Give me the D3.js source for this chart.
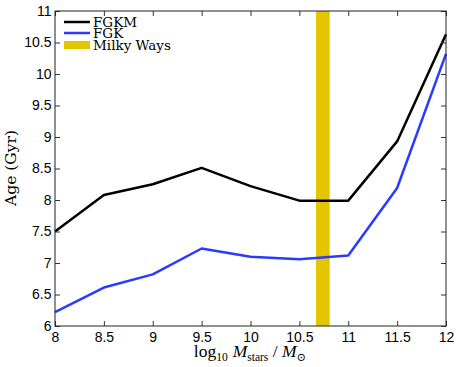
<!DOCTYPE html>
<html>
<head>
<meta charset="utf-8">
<script src="https://cdn.jsdelivr.net/npm/d3@7"></script>
<style>
  body { margin: 0; background: #fff; }
  .tick text { font-family: "Liberation Sans", Arial, sans-serif; font-size: 14px; fill: #000; }
  .lab { font-family: "DejaVu Serif", "Liberation Serif", serif; fill: #000; }
  .xlab { font-family: "Liberation Serif", "DejaVu Serif", serif; fill: #000; }
</style>
</head>
<body>
<svg id="chart" width="458" height="367"></svg>
<script>
const masses = [8, 8.5, 9, 9.5, 10, 10.5, 11, 11.5, 12];
const ageFGKM = [7.5, 8.08, 8.25, 8.51, 8.22, 7.99, 7.99, 8.93, 10.63];
const ageFGK = [6.22, 6.61, 6.82, 7.23, 7.10, 7.06, 7.12, 8.19, 10.32];
const milkyWay = [10.67, 10.81];
const xTicks = [8, 8.5, 9, 9.5, 10, 10.5, 11, 11.5, 12];
const yTicks = [6, 6.5, 7, 7.5, 8, 8.5, 9, 9.5, 10, 10.5, 11];
const series = [
  { name: 'FGKM', values: ageFGKM, color: '#000000' },
  { name: 'FGK', values: ageFGK, color: '#2a3bff' }
];

const svg = d3.select('#chart');
const m = { left: 55, right: 446, top: 11, bottom: 326 };

const x = d3.scaleLinear().domain([8, 12]).range([m.left, m.right]);
const y = d3.scaleLinear().domain([6, 11]).range([m.bottom, m.top]);

// milky way band
svg.append('rect')
  .attr('x', x(milkyWay[0]))
  .attr('y', m.top)
  .attr('width', x(milkyWay[1]) - x(milkyWay[0]))
  .attr('height', m.bottom - m.top)
  .attr('fill', '#e3c500');

const line = d3.line()
  .x((d, i) => x(masses[i]))
  .y(d => y(d));

series.forEach(s => {
  svg.append('path')
    .datum(s.values)
    .attr('d', line)
    .attr('fill', 'none')
    .attr('stroke', s.color)
    .attr('stroke-width', 2.5)
    .attr('stroke-linejoin', 'round');
});

// axes (ticks inward, boxed)
const tl = 5;
const fmt = d => d3.format('')(d);
svg.append('g')
  .attr('transform', `translate(0,${m.bottom})`)
  .call(d3.axisBottom(x).tickValues(xTicks).tickSize(-tl).tickPadding(6).tickFormat(fmt))
  .call(g => g.select('.domain').remove());
svg.append('g')
  .attr('transform', `translate(0,${m.top})`)
  .call(d3.axisTop(x).tickValues(xTicks).tickSize(-tl).tickFormat(''))
  .call(g => g.select('.domain').remove());
svg.append('g')
  .attr('transform', `translate(${m.left},0)`)
  .call(d3.axisLeft(y).tickValues(yTicks).tickSize(-tl).tickPadding(3.5).tickFormat(fmt))
  .call(g => g.select('.domain').remove());
svg.append('g')
  .attr('transform', `translate(${m.right},0)`)
  .call(d3.axisRight(y).tickValues(yTicks).tickSize(-tl).tickFormat(''))
  .call(g => g.select('.domain').remove());

svg.selectAll('.tick line').attr('stroke', '#333');

svg.append('rect')
  .attr('x', m.left).attr('y', m.top)
  .attr('width', m.right - m.left).attr('height', m.bottom - m.top)
  .attr('fill', 'none').attr('stroke', '#222').attr('stroke-width', 1);

// legend
const legendItems = [
  { name: 'FGKM', color: '#000000', w: 2.5 },
  { name: 'FGK', color: '#2a3bff', w: 2.5 },
  { name: 'Milky Ways', color: '#e3c500', w: 8 }
];
const legendY = [22, 33, 45];
legendItems.forEach((it, i) => {
  svg.append('line')
    .attr('x1', 64).attr('x2', 90)
    .attr('y1', legendY[i]).attr('y2', legendY[i])
    .attr('stroke', it.color).attr('stroke-width', it.w);
  svg.append('text')
    .attr('class', 'lab')
    .attr('x', 93).attr('y', legendY[i] + 5)
    .attr('font-size', 13.5)
    .text(it.name);
});

// axis labels
svg.append('text')
  .attr('class', 'lab')
  .attr('transform', 'translate(16,168) rotate(-90)')
  .attr('text-anchor', 'middle')
  .attr('font-size', 15.5)
  .text('Age (Gyr)');

const xl = svg.append('text')
  .attr('class', 'xlab')
  .attr('x', 250).attr('y', 357)
  .attr('text-anchor', 'middle')
  .attr('font-size', 17.5);
xl.append('tspan').text('log');
xl.append('tspan').attr('font-size', 11.5).attr('dy', 4).text('10');
xl.append('tspan').attr('dy', -4).attr('dx', 5).attr('font-style', 'italic').text('M');
xl.append('tspan').attr('font-size', 11.5).attr('dy', 4).text('stars');
xl.append('tspan').attr('dy', -4).text(' / ');
xl.append('tspan').attr('font-style', 'italic').text('M');
xl.append('tspan').attr('font-size', 11.5).attr('dy', 4).text('\u2299');
</script>
</body>
</html>
